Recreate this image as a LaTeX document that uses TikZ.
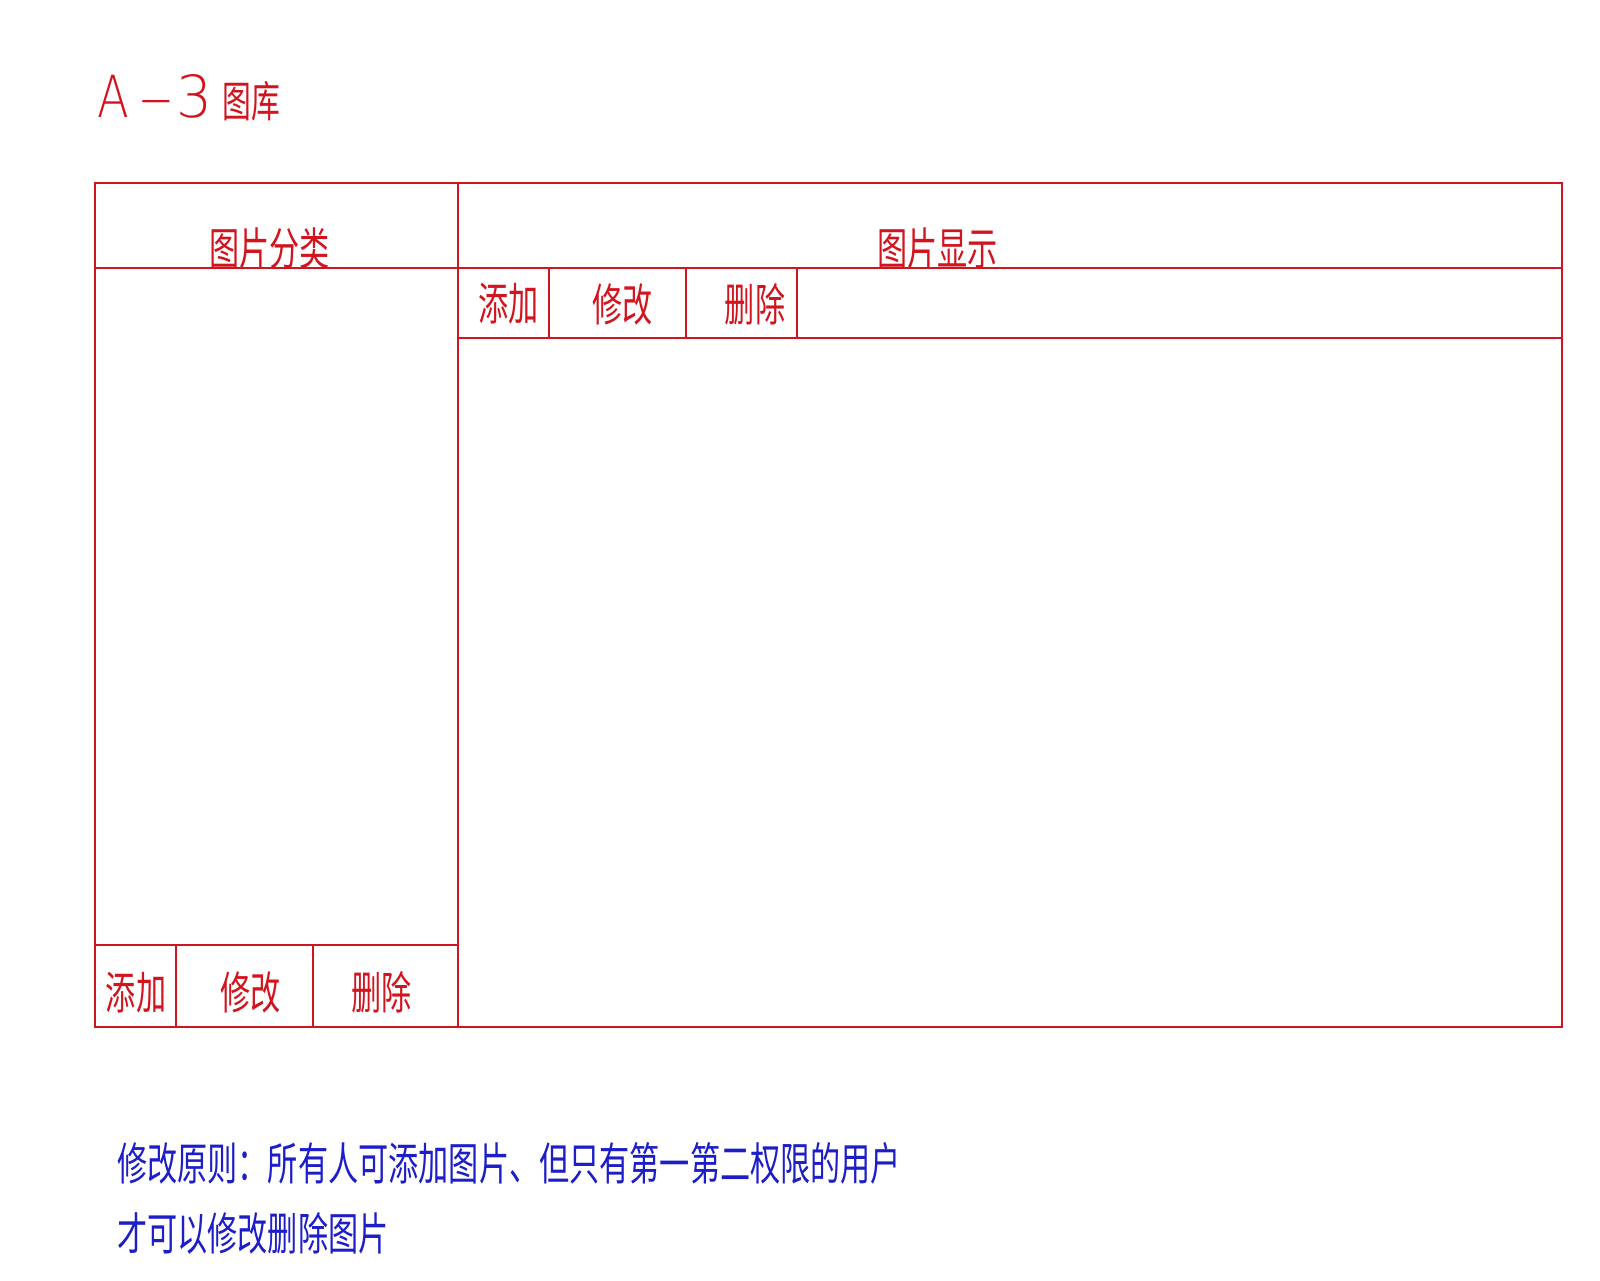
\documentclass[tikz,border=0pt]{standalone}
\usepackage{fontspec}
\newfontfamily\cjk[FakeStretch=0.67]{Noto Sans CJK SC}
\newfontfamily\latinthin[FakeStretch=0.8]{DejaVu Sans ExtraLight}
\definecolor{cadred}{RGB}{210,20,30}
\definecolor{cadblue}{RGB}{30,30,200}
\tikzset{
  frame/.style={draw=cadred, line width=1.1pt},
  lbl/.style={text=cadred, inner sep=0pt, font=\cjk\fontsize{45}{45}\selectfont},
  note/.style={text=cadblue, inner sep=0pt, anchor=west, font=\cjk\fontsize{45}{45}\selectfont},
}
\begin{document}
\begin{tikzpicture}[x=1pt,y=-1pt]
\useasboundingbox (0,0) rectangle (1600,1280);
% frame
\draw[frame] (95,183) rectangle (1562,1027);
\draw[frame] (458,183) -- (458,1027);
\draw[frame] (95,268) -- (1562,268);
\draw[frame] (458,338) -- (1562,338);
\draw[frame] (549,268) -- (549,338);
\draw[frame] (686,268) -- (686,338);
\draw[frame] (797,268) -- (797,338);
\draw[frame] (95,945) -- (458,945);
\draw[frame] (176,945) -- (176,1027);
\draw[frame] (313,945) -- (313,1027);
% title
\node[text=cadred, inner sep=0pt, anchor=west] (title) at (97,98)
  {{\latinthin\fontsize{58}{58}\selectfont A\hspace{11pt}\scalebox{1.45}[1]{–}\hspace{3pt}\scalebox{1.22}[1]{3}}\hspace{10pt}{\cjk\fontsize{43}{43}\selectfont 图库}};
% labels
\node[lbl] (cat) at (269.5,248.5) {图片分类};
\node[lbl] (disp) at (937.5,248.5) {图片显示};
\node[lbl] (addt) at (508.5,304) {添加};
\node[lbl] (modt) at (622.5,304) {修改};
\node[lbl] (delt) at (755,304) {删除};
\node[lbl] (addb) at (136,992.5) {添加};
\node[lbl] (modb) at (250.5,992.5) {修改};
\node[lbl] (delb) at (381.5,992.5) {删除};
% note
\node[note] (note1) at (117,1163.5) {修改原则：所有人可添加图片、但只有第一第二权限的用户};
\node[note] (note2) at (117,1233.5) {才可以修改删除图片};
\end{tikzpicture}
\end{document}
